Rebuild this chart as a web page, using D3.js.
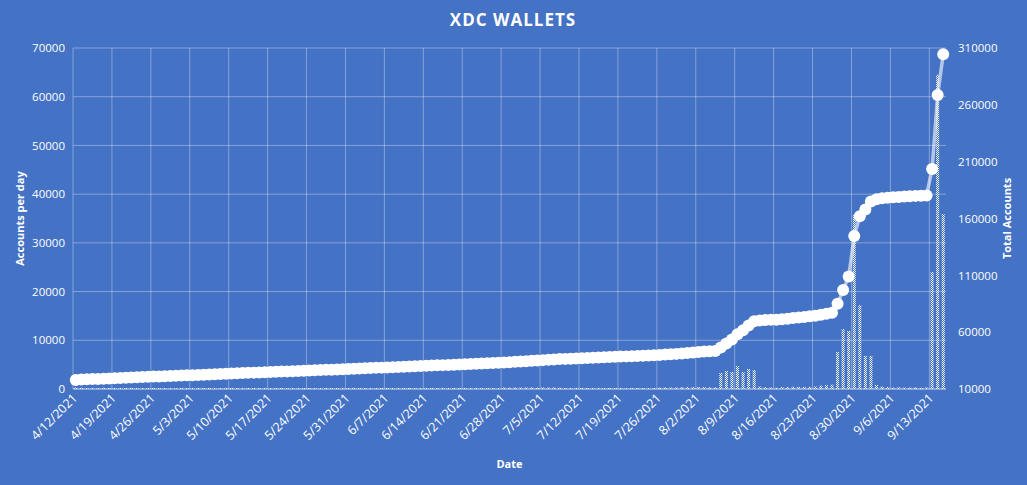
<!DOCTYPE html>
<html><head><meta charset="utf-8">
<script src="https://cdn.jsdelivr.net/npm/d3@7"></script>
<style>
body{margin:0;background:#4472c4;}
text{font-family:"Open Sans",Carlito,sans-serif;fill:#fff;}
</style></head>
<body><svg id="chart" width="1027" height="485"></svg>
<script>
// total accounts per date, starting 4/12/2021
var totals = [
  18000,18300,18500,18700,18900,19100,19300,
  19500,19700,19900,20100,20300,20500,20700,
  20900,21100,21300,21500,21600,21800,22000,
  22200,22400,22600,22800,23000,23200,23400,
  23600,23800,24000,24200,24400,24500,24700,
  24900,25100,25300,25500,25700,25900,26100,
  26300,26500,26700,26900,27000,27200,27400,
  27600,27800,28000,28200,28400,28600,28800,
  29000,29200,29400,29600,29800,30000,30200,
  30400,30600,30800,31000,31200,31400,31600,
  31800,32000,32200,32400,32600,32800,33000,
  33300,33600,33900,34200,34500,34800,35100,
  35400,35700,36000,36300,36500,36700,36900,
  37100,37300,37500,37700,37900,38100,38300,
  38500,38700,38900,39100,39300,39500,39700,
  40000,40300,40600,40900,41300,41700,42100,
  42500,42900,43200,43500,46500,50000,53500,
  58200,61700,65800,69700,70300,70700,71000,
  71000,71400,71900,72400,72900,73400,73900,
  74500,75300,76100,77000,85000,97000,109000,
  144600,162000,168000,175000,177000,177800,178300,
  178700,179000,179300,179600,179900,180100,180300,
  203500,268600,304500
];
var perDay = [
  300,250,200,220,180,260,210,
  200,210,190,230,180,200,220,
  210,190,200,180,150,200,190,
  200,230,180,210,190,200,220,
  210,200,190,220,200,150,200,
  200,210,190,200,220,190,200,
  210,200,190,220,150,200,210,
  200,220,190,210,200,190,200,
  210,200,220,190,200,210,200,
  200,210,190,220,200,210,190,
  210,200,220,190,200,210,200,
  300,280,310,290,300,320,280,
  300,290,310,260,210,200,220,
  200,210,190,220,200,210,190,
  210,200,220,190,200,210,200,
  300,320,290,310,400,420,380,
  400,380,350,320,3300,3700,3500,
  4700,3500,4100,3900,500,380,300,
  250,380,420,460,430,400,450,
  520,700,780,900,7600,12300,11900,
  35700,17200,6800,6800,800,500,400,
  300,350,280,300,320,250,300,
  24000,64500,35900
];
var startDate = new Date(2021, 3, 12);
var dates = perDay.map(function (d, i) { return d3.timeDay.offset(startDate, i); });
var leftTicks = [0,10000,20000,30000,40000,50000,60000,70000];
var rightTicks = [10000,60000,110000,160000,210000,260000,310000];

var svg = d3.select('#chart');
var plotL = 73, plotR = 946, plotT = 48, plotB = 389;
var fmt = d3.timeFormat('%-m/%-d/%Y');

var x = d3.scaleBand().domain(d3.range(dates.length)).range([plotL, plotR]).padding(0);
var yL = d3.scaleLinear().domain([0, 70000]).range([plotB, plotT]);
var yR = d3.scaleLinear().domain([10000, 310000]).range([plotB, plotT]);

var defs = svg.append('defs');
var pat = defs.append('pattern').attr('id', 'dots').attr('width', 2).attr('height', 2)
  .attr('patternUnits', 'userSpaceOnUse');
pat.append('rect').attr('width', 1).attr('height', 1).attr('fill', '#fff');
pat.append('rect').attr('x', 1).attr('y', 1).attr('width', 1).attr('height', 1).attr('fill', '#fff');

svg.append('text').attr('x', 513).attr('y', 26).attr('text-anchor', 'middle')
  .style('font-size', '17px').style('font-weight', 'bold').style('letter-spacing', '1px').text('XDC WALLETS');

// gridlines
svg.append('g').selectAll('line').data(leftTicks).join('line')
  .attr('x1', plotL).attr('x2', plotR).attr('y1', yL).attr('y2', yL)
  .attr('stroke', 'rgba(255,255,255,0.35)').attr('stroke-width', 1);
var weekIdx = d3.range(0, dates.length, 7);
svg.append('g').selectAll('line').data(weekIdx).join('line')
  .attr('x1', function (i) { return x(i); }).attr('x2', function (i) { return x(i); })
  .attr('y1', plotT).attr('y2', plotB)
  .attr('stroke', 'rgba(255,255,255,0.35)').attr('stroke-width', 1);

// bars
svg.append('g').selectAll('rect').data(perDay).join('rect')
  .attr('x', function (d, i) { return x(i) + x.bandwidth() / 2 - 1.5; })
  .attr('width', 3)
  .attr('y', function (d) { return yL(d); })
  .attr('height', function (d) { return plotB - yL(d); })
  .attr('fill', 'url(#dots)');

// axes
var axL = svg.append('g').attr('transform', 'translate(' + plotL + ',0)')
  .call(d3.axisLeft(yL).tickValues(leftTicks).tickSize(0).tickPadding(8).tickFormat(d3.format('d')));
var axR = svg.append('g').attr('transform', 'translate(' + plotR + ',0)')
  .call(d3.axisRight(yR).tickValues(rightTicks).tickSize(0).tickPadding(12).tickFormat(d3.format('d')));
var axB = svg.append('g').attr('transform', 'translate(0,' + plotB + ')')
  .call(d3.axisBottom(x).tickValues(weekIdx).tickSize(0).tickFormat(function (i) { return fmt(dates[i]); }));
[axL, axR, axB].forEach(function (a) {
  a.select('.domain').remove();
  a.selectAll('text').style('font-size', '11.5px').attr('fill', '#fff');
});
axB.selectAll('.tick').attr('transform', function (i) { return 'translate(' + x(i) + ',0)'; });
axB.selectAll('text').attr('text-anchor', 'end').attr('dy', 0).attr('y', 0)
  .style('font-size', '12.5px').attr('transform', 'translate(5,10) rotate(-45)');
svg.append('line').attr('x1', plotL).attr('x2', plotR).attr('y1', plotB).attr('y2', plotB)
  .attr('stroke', 'rgba(255,255,255,0.5)');

// line + markers
var line = d3.line().x(function (d, i) { return x(i) + x.bandwidth() / 2; }).y(function (d) { return yR(d); });
svg.append('path').datum(totals).attr('d', line).attr('fill', 'none')
  .attr('stroke', 'rgba(255,255,255,0.6)').attr('stroke-width', 3.5);
svg.append('g').selectAll('circle').data(totals).join('circle')
  .attr('cx', function (d, i) { return x(i) + x.bandwidth() / 2; })
  .attr('cy', function (d) { return yR(d); })
  .attr('r', 6).attr('fill', '#fff');

// axis titles
svg.append('text').attr('transform', 'translate(24,' + (plotT + plotB) / 2 + ') rotate(-90)')
  .attr('text-anchor', 'middle').style('font-size', '11px').style('font-weight', 'bold').text('Accounts per day');
svg.append('text').attr('transform', 'translate(1011,' + (plotT + plotB) / 2 + ') rotate(-90)')
  .attr('text-anchor', 'middle').style('font-size', '11px').style('font-weight', 'bold').text('Total Accounts');
svg.append('text').attr('x', (plotL + plotR) / 2).attr('y', 468)
  .attr('text-anchor', 'middle').style('font-size', '11px').style('font-weight', 'bold').text('Date');
</script></body></html>
